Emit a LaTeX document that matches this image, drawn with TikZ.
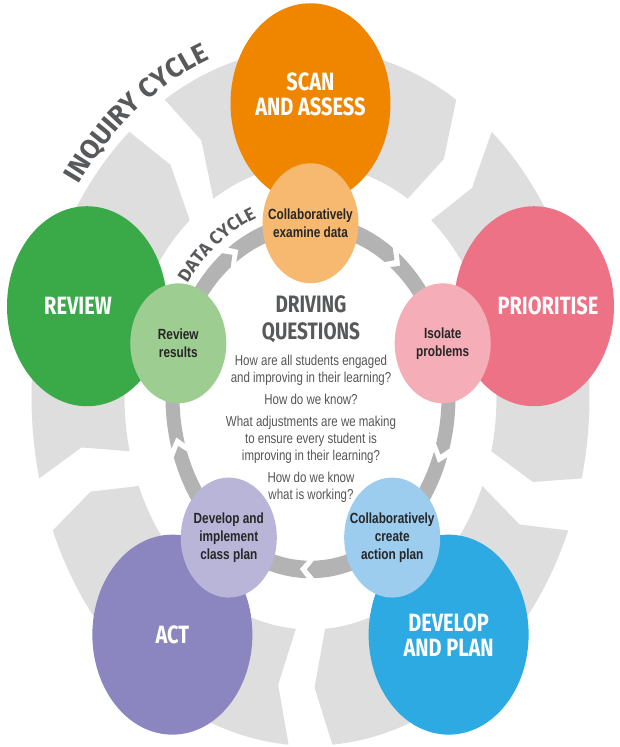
\documentclass[tikz,border=0pt]{standalone}
\usepackage{fontspec}
\setmainfont{Liberation Sans}
\setsansfont{Fira Sans}
\usetikzlibrary{positioning,decorations.text}

\definecolor{ringgray}{HTML}{DEDEDE}
\definecolor{datagray}{HTML}{B3B3B3}
\definecolor{titlegray}{HTML}{58595B}
\definecolor{qgray}{HTML}{555555}
\definecolor{scanc}{HTML}{F08600}
\definecolor{scanl}{HTML}{F7B970}
\definecolor{revc}{HTML}{3AAA49}
\definecolor{revl}{HTML}{9ECD92}
\definecolor{pric}{HTML}{EE7286}
\definecolor{pril}{HTML}{F5AEB7}
\definecolor{actc}{HTML}{8B86BF}
\definecolor{actl}{HTML}{B9B5D8}
\definecolor{devc}{HTML}{2DAAE1}
\definecolor{devl}{HTML}{9CCCEE}

\begin{document}
\begin{tikzpicture}[x=1pt,y=1pt,yscale=1.25,transform shape,
bigdisc/.style={circle,minimum size=160pt,inner sep=0pt},
smalldisc/.style={circle,minimum size=96pt,inner sep=0pt,align=center,
  text=black!85,font=\bfseries\fontsize{11.8}{14.5}\selectfont},
bigtxt/.style={align=center,inner sep=0pt,text=white,
  font=\sffamily\bfseries\fontsize{20}{20}\selectfont}]
\useasboundingbox (-310.5,-280) rectangle (308.5,317.6);

% inquiry cycle ring
\foreach \g in {126,54,-18,-90,-162}{
  \pgfmathsetmacro\ta{\g-4.5}
  \pgfmathsetmacro\tb{\g-67.5}
  \pgfmathsetmacro\tc{\ta-3.5}
  \pgfmathsetmacro\td{\tb-3.5}
  \fill[ringgray] (\ta:279) arc[start angle=\ta,end angle=\tb,radius=279]
    -- (\td:232.5) -- (\tb:186) arc[start angle=\tb,end angle=\ta,radius=186]
    -- (\tc:232.5) -- cycle;
}
% data cycle ring
\foreach \g in {126,54,-18,-90,-162}{
  \pgfmathsetmacro\ta{\g-1.5}
  \pgfmathsetmacro\tb{\g-70.5}
  \pgfmathsetmacro\tc{\ta-3}
  \pgfmathsetmacro\td{\tb-3}
  \fill[datagray] (\ta:145) arc[start angle=\ta,end angle=\tb,radius=145]
    -- (\td:138) -- (\tb:131) arc[start angle=\tb,end angle=\ta,radius=131]
    -- (\tc:138) -- cycle;
}

\path[decorate,decoration={text along path,text align=center,text color=titlegray,
  text={|\sffamily\bfseries\fontsize{27}{27}\selectfont|INQUIRY CYCLE}}]
  (156:288) arc[start angle=156,end angle=96,radius=288];
\path[decorate,decoration={text along path,text align=center,text color=titlegray,
  text={|\sffamily\bfseries\fontsize{18}{18}\selectfont|DATA CYCLE}}]
  (156:153) arc[start angle=156,end angle=96,radius=153];

% inquiry steps
\node[bigdisc,fill=scanc] (scan) at (90:235) {};
\node[bigdisc,fill=revc] (rev) at (162:235) {};
\node[bigdisc,fill=pric] (pri) at (18:235) {};
\node[bigdisc,fill=actc] (act) at (234:235) {};
\node[bigdisc,fill=devc] (dev) at (306:235) {};
\node[bigtxt,yshift=7pt] (scant) at (scan) {SCAN\\AND ASSESS};
\node[bigtxt,xshift=-9pt] (revt) at (rev) {REVIEW};
\node[bigtxt,xshift=14pt] (prit) at (pri) {PRIORITISE};
\node[bigtxt] (actt) at (act) {ACT};
\node[bigtxt] (devt) at (dev) {DEVELOP\\AND PLAN};

% data steps
\node[smalldisc,fill=scanl] (exam) at (90:139) {Collaboratively\\examine data};
\node[smalldisc,fill=revl] (res) at (162:139) {Review\\results};
\node[smalldisc,fill=pril] (iso) at (18:139) {Isolate\\problems};
\node[smalldisc,fill=actl] (impl) at (234:139) {Develop and\\implement\\class plan};
\node[smalldisc,fill=devl] (crea) at (306:139) {Collaboratively\\create\\action plan};

% driving questions
\node[inner sep=0pt,align=center,text=titlegray,
  font=\sffamily\bfseries\fontsize{19}{21.6}\selectfont] (dq) at (0.5,62) {DRIVING\\QUESTIONS};
\node[below=9.5pt of dq,inner sep=0pt,align=center,text=qgray,
  font=\fontsize{11.5}{13.6}\selectfont] (qs)
  {How are all students engaged\\and improving in their learning?\\[4pt]
   How do we know?\\[4pt]
   What adjustments are we making\\to ensure every student is\\improving in their learning?\\[4pt]
   How do we know\\what is working?};
\end{tikzpicture}
\end{document}
